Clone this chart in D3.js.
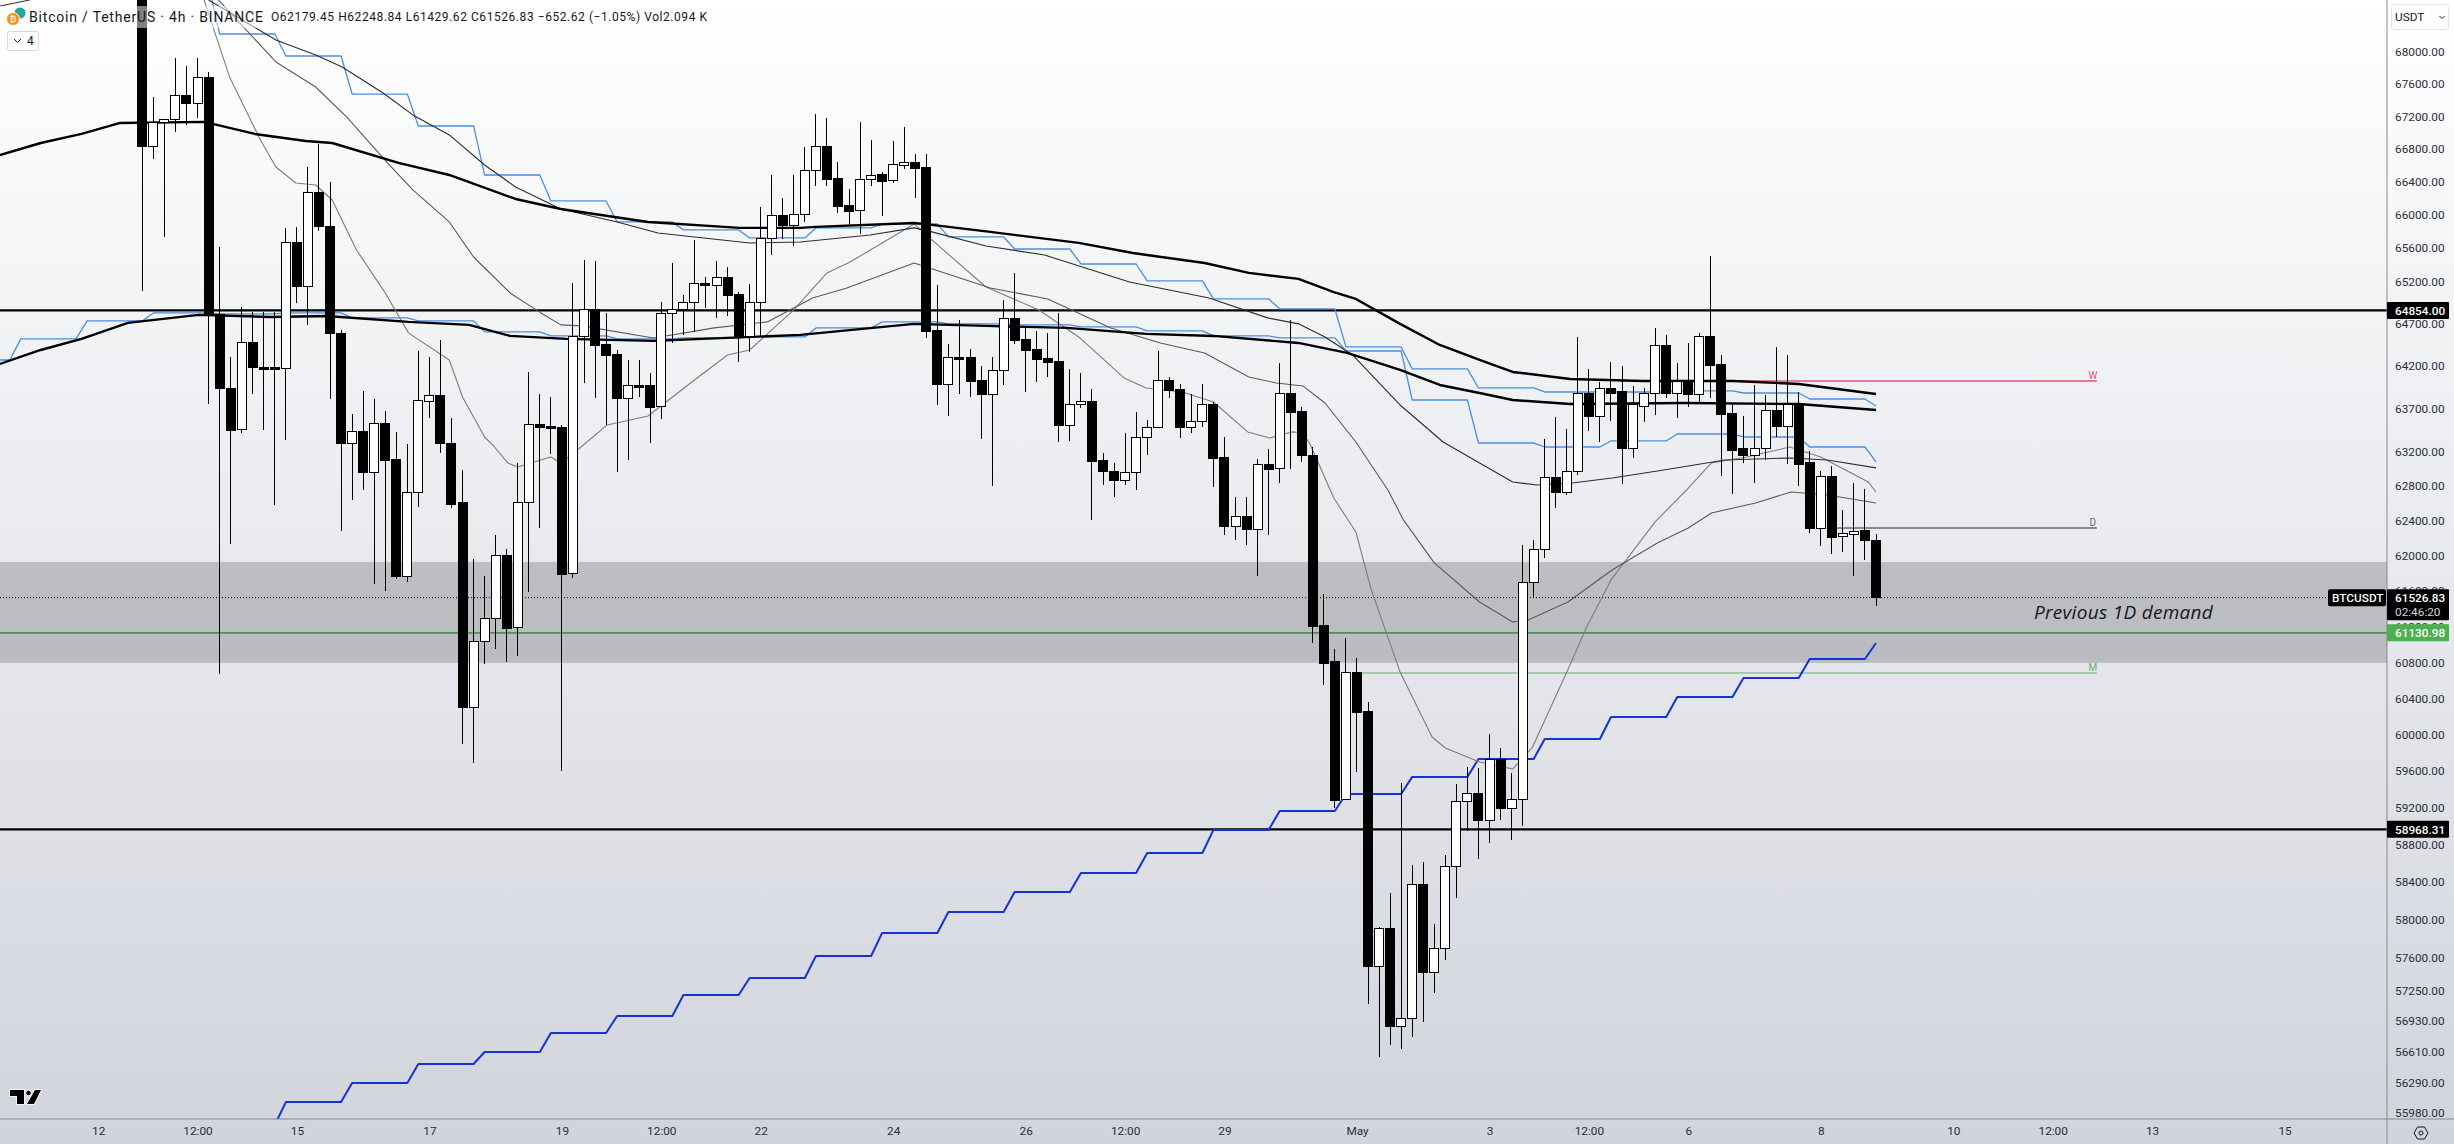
<!DOCTYPE html>
<html>
<head>
<meta charset="utf-8">
<title>BTCUSDT 4h</title>
<script src="https://cdnjs.cloudflare.com/ajax/libs/d3/7.8.5/d3.min.js"></script>
<style>
  html, body { margin: 0; padding: 0; background: #fff; overflow: hidden; }
  text { font-family: Roboto, "Open Sans", sans-serif; fill: #131722; }
</style>
</head>
<body>
<script>
// candles, oldest first, one every 4h starting 12 Apr 2024 16:00
const opens = [69413,66838,67121,67158,67454,67367,67677,64800,63926,63448,64468,64173,64173,64161,65661,65133,66265,65854,64575,63296,
  63425,62950,63518,63100,61761,62719,63785,63844,63296,62604,60295,61029,61287,61999,61186,62604,63506,63483,63471,61795,
  64539,64859,64444,64326,63809,63962,63962,63716,64812,64859,64942,65169,65145,65241,65048,64539,64942,65709,65987,65866,
  65999,66533,66826,66436,66108,66047,66423,66484,66411,66594,66631,66570,64610,63973,64291,64291,64020,63856,64138,64753,
  64504,64385,64279,64244,63494,63739,63774,63088,62961,62857,62950,63355,63471,64020,63915,63471,63541,63739,63123,62330,
  62444,62295,63042,62996,63868,63657,63157,61208,60806,59297,60683,60251,57499,57911,56880,56963,58370,57436,57689,58563,
  59275,59362,59059,59723,59189,59297,61693,62067,62892,62730,62961,63879,63599,63926,63891,63227,63727,63868,64432,63868,
  64020,63856,64539,64209,63634,63227,63157,63227,63669,63483,63750,63065,62307,62903,62215,62238,62284,62179.45];
const highs = [69670,67441,67170,67926,67826,67926,67752,65612,64303,64895,64836,64836,64836,65842,65854,66582,66863,66399,64622,63634,
  63903,63809,63669,63425,63285,64373,64303,64504,63587,62984,61965,61772,62238,62078,63065,64126,63868,63832,63506,65180,
  65456,65444,64824,64385,64267,64267,64115,64954,65420,65036,65697,65253,65444,65373,65072,65169,66095,66484,66204,66484,
  66826,67232,67183,66643,66314,67134,66912,66521,66900,67072,66740,66740,65157,64456,64741,64397,64197,64303,64978,65301,
  64646,64610,64587,64824,64162,64115,63926,63180,63065,63413,63657,63564,64373,64067,63985,63868,63985,63774,63366,62673,
  62673,63111,63227,64232,64741,63716,63250,61568,60950,61074,60850,60361,57922,58284,59472,58584,58616,57954,58691,59461,
  59646,59635,60008,59854,59581,62124,62181,63343,63599,63459,64539,64162,64009,64244,64197,63962,63938,64646,64563,64232,
  64468,64587,65504,64326,63762,63611,63973,63856,64421,64326,63891,63203,62973,63030,62524,62834,62765,62248.84];
const lows = [65086,66679,65733,67010,67096,67183,63750,60672,62136,63413,63868,63448,62581,63331,64942,64682,65806,63809,62284,62638,
  62753,61681,61602,61738,61704,62558,63587,63180,62547,59898,59690,60783,60950,60806,60872,61591,62318,63169,59603,61750,
  63997,63820,63506,62961,63100,63832,63296,63576,64468,64563,64599,64883,64765,64788,64244,64361,64539,65516,65709,65624,
  65914,66350,66350,66023,65878,65769,66350,65987,66387,66558,66204,64527,63739,63611,63868,63832,63343,62800,63973,64456,
  63891,64009,64067,63308,63320,63704,62410,62811,62673,62811,62753,63157,63471,63820,63355,63413,63483,62788,62238,62181,
  62124,61772,62238,62834,62996,63077,61017,60550,59199,59286,59592,57109,56558,56682,56640,56765,56922,57225,57573,58230,
  58951,58649,58821,59070,58854,59005,61534,61976,62547,62696,62927,63436,63308,63553,62823,63123,63541,63622,63820,63587,
  63716,63774,63820,62915,62707,63065,62834,63100,63366,63053,62800,62261,62113,62022,62044,61772,61954,61429.62];
const closes = [66838,67121,67158,67454,67355,67677,64800,63926,63436,64468,64173,64161,64161,65661,65133,66265,65854,64575,63296,63425,
  62950,63518,63088,61761,62730,63797,63844,63285,62592,60295,61029,61287,61999,61175,62604,63506,63471,63471,61783,64539,
  64859,64432,64314,63809,63962,63950,63704,64812,64859,64942,65169,65145,65241,65036,64527,64942,65709,65987,65866,65999,
  66533,66826,66423,66095,66035,66423,66472,66399,66606,66631,66558,64599,63973,64291,64279,64009,63856,64138,64753,64492,
  64373,64267,64232,63494,63750,63774,63077,62961,62857,62950,63355,63471,64020,63903,63471,63541,63739,63111,62330,62444,
  62295,63042,62984,63868,63646,63146,61197,60794,59286,60683,60240,57499,57911,56880,56963,58370,57436,57689,58563,59275,
  59362,59059,59723,59189,59297,61693,62067,62892,62730,62961,63879,63599,63926,63879,63227,63739,63868,64432,63868,64009,
  63856,64539,64197,63622,63215,63157,63238,63669,63483,63739,63053,62307,62903,62204,62250,62272,62179,61526.83];

// moving averages, [bar number, price]
const maThickUpper = [[-12.9,66728],[-9.2,66875],[-5.5,66986],[-2,67121],[5.6,67134],[10.2,66986],[14.8,66900],[17.2,66875],[23.2,66631],[27.8,66484],
  [33.8,66192],[37.9,66071],[45.8,65914],[54.1,65842],[59.6,65842],[61,65854],[69.9,65902],[71.5,65878],[76.8,65794],[84.8,65661],
  [89.7,65540],[96.2,65420],[100.2,65301],[104.7,65229],[107.9,65072],[109.9,64990],[113.9,64694],[117.5,64444],[121.1,64267],[124.1,64126],
  [129.3,64044],[135.9,64020],[144.1,64020],[150,63985],[157,63868]];
const maThickLower = [[-12.9,64220],[-9.2,64385],[-5.5,64516],[-1.3,64706],[5.1,64800],[11.6,64776],[16.7,64788],[24.1,64717],[29.6,64682],[33.3,64551],
  [38.4,64516],[46.3,64492],[59.6,64563],[69.9,64694],[76.4,64670],[83.7,64646],[90.9,64575],[97,64551],[104.7,64468],[109.1,64350],
  [113.9,64150],[117.5,63973],[121.1,63879],[124.1,63797],[129.3,63750],[139.6,63762],[150,63750],[157,63680]];
const maThinDark = [[6,68651],[12.1,68150],[15.7,67963],[18.1,67814],[21.8,67491],[24.5,67220],[27.8,66974],[31,66606],[33.8,66338],[37.9,66071],
  [43,65914],[46.7,65781],[55,65661],[59.6,65673],[65.9,65757],[69.9,65842],[71.5,65794],[76.4,65624],[81.7,65516],[89.4,65193],
  [96.6,65002],[101.9,64765],[104.7,64694],[107.1,64539],[109.6,64326],[112,63997],[113.9,63739],[117.8,63308],[121.1,63065],[124.1,62846],
  [126.3,62811],[129.5,62834],[133.1,62892],[137.2,62973],[140,63030],[143.3,63100],[149.3,63123],[152.6,63100],[157,63008]];
const maThinMid = [[6.9,68651],[12.1,67876],[15.7,67565],[18.5,67195],[22.2,66631],[24.5,66302],[27.8,65914],[30,65492],[33.3,65062],[36.1,64824],
  [37.9,64682],[39.8,64670],[46.3,64527],[51.8,64646],[56.6,64717],[60.7,65002],[63.8,65121],[69.9,65420],[76.8,65121],[82,64990],
  [87.7,64646],[92.2,64468],[96.2,64350],[100.2,64067],[102.7,63997],[105.1,63962],[107.1,63762],[109.9,63308],[112.8,62753],[114.2,62410],
  [117,61920],[121.1,61478],[124.1,61253],[125.5,61276],[129.1,61478],[133.1,61840],[137.2,62147],[140,62318],[142.1,62490],[146.1,62604],
  [149.3,62730],[152.6,62696],[157,62604]];
const maThinFast = [[5.6,68651],[7.9,67690],[10.7,66912],[12.1,66582],[13.9,66387],[15.7,66362],[17.2,66180],[19.4,65576],[22,65062],[24.1,64587],
  [27.8,64267],[29,63832],[31,63366],[31.9,63250],[33.1,63065],[34,63019],[37,63134],[37.9,63065],[39.4,63215],[42.1,63506],
  [45.8,63611],[50,64032],[53,64326],[55,64385],[57,64622],[59,64859],[62,65301],[64.1,65432],[69.9,65890],[71.5,65697],
  [76.4,65133],[81.2,64859],[84.8,64539],[88.9,64056],[90.9,63938],[94.2,63891],[97,63774],[100.1,63425],[102.1,63355],[104.1,63425],
  [105.1,63413],[105.7,63296],[107.9,62661],[109.9,62272],[111.3,61613],[113.9,60695],[116.8,59975],[118,59854],[121.1,59701],[124.1,59624],
  [125.9,59865],[129,60695],[130.8,61197],[133,61727],[137,62387],[140,62776],[142.1,63065],[145.3,63134],[149.2,63250],[152,63134],
  [156.3,62846],[157,62730]];
// the bit of an older average that shows in the top left corner
const maCorner = [[-12.9,68575],[-10.2,68651]];

// daily stepped levels, a new value every 6 bars from the given first bar
const stepUpperStart = 1;
const stepUpper = [68842,68225,67950,67478,67084,66484,66168,65914,65818,65721,65842,65890,65733,65588,65408,65205,64990,64871,64421,64162,63938,63891,63891,63903,63879,63809,63727];
const stepLowerStart = -17;
const stepLower = [64267,64516,64729,64824,64812,64824,64765,64729,64599,64551,64516,64527,64539,64646,64717,64694,64682,64658,64610,64551,64527,64373,63797,63296,63250,63320,63401,63366,63250,63077];
const stepRisingStart = 7;
const stepRising = [55858,56092,56289,56485,56609,56807,56984,57204,57383,57615,57859,58082,58295,58499,58713,58962,59167,59352,59538,59734,59953,60196,60416,60627,60839,61017];

// levels
const lastPrice = 61526.83;
const levelTop = 64854.00;
const levelBottom = 58968.31;
const levelGreen = 61130.98;
const zonePrices = [61931, 60796];
const pivotNames = ["W", "D", "M"];
const pivotPrices = [64020, 62318, 60683];
const pivotStartBars = [140, 153, 110];
const pivotEndBar = 177;
const pivotColors = ["#e0527c", "#6a6d75", "#66ad76"];

// axes
const priceTicks = [68000,67600,67200,66800,66400,66000,65600,65200,64700,64200,63700,63200,62800,62400,62000,61600,61200,60800,60400,60000,59600,59200,58800,58400,58000,57600,57250,56930,56610,56290,55980];
const timeTickDates = [[3,12,0],[3,13,12],[3,15,0],[3,17,0],[3,19,0],[3,20,12],[3,22,0],[3,24,0],[3,26,0],[3,27,12],[3,29,0],[4,1,0],[4,3,0],[4,4,12],[4,6,0],[4,8,0],[4,10,0],[4,11,12],[4,13,0],[4,15,0]];
const timeTickLabels = ["12","12:00","15","17","19","12:00","22","24","26","12:00","29","May","3","12:00","6","8","10","12:00","13","15"];

const width = 2454;
const height = 1144;
const plotRight = 2387;
const plotBottom = 1119;
const barMs = 4 * 3600 * 1000;
const firstBar = Date.UTC(2024, 3, 12, 16);
const barTime = b => new Date(firstBar + b * barMs);

const svg = d3.select("body")
  .append("svg")
  .attr("width", width)
  .attr("height", height)
  .style("display", "block");

const defs = svg.append("defs");
const grad = defs.append("linearGradient")
  .attr("id", "bg")
  .attr("x1", 0).attr("y1", 0).attr("x2", 0).attr("y2", 1);
grad.append("stop").attr("offset", "0%").attr("stop-color", "#ffffff");
grad.append("stop").attr("offset", "100%").attr("stop-color", "#d1d4dc");

defs.append("clipPath").attr("id", "plot")
  .append("rect").attr("width", plotRight).attr("height", plotBottom);

svg.append("rect").attr("width", width).attr("height", height).attr("fill", "url(#bg)");

// scales
const x = d3.scaleUtc()
  .domain([barTime(0), barTime(157)])
  .range([142.3, 1876]);
const y = d3.scaleLog()
  .domain([68000, 55980])
  .range([52, 1113]);

const chart = svg.append("g").attr("clip-path", "url(#plot)");

// demand zone
chart.append("rect")
  .attr("x", 0)
  .attr("width", plotRight)
  .attr("y", y(zonePrices[0]))
  .attr("height", y(zonePrices[1]) - y(zonePrices[0]))
  .attr("fill", "rgba(110,110,115,0.35)");

// horizontal lines
chart.selectAll(".level")
  .data([levelTop, levelBottom])
  .enter().append("line")
  .attr("x1", 0).attr("x2", plotRight)
  .attr("y1", d => y(d)).attr("y2", d => y(d))
  .attr("stroke", "#000").attr("stroke-width", 2.2);

chart.append("line")
  .attr("x1", 0).attr("x2", plotRight)
  .attr("y1", y(levelGreen)).attr("y2", y(levelGreen))
  .attr("stroke", "#4f8f5c").attr("stroke-width", 1.8);

chart.append("line")
  .attr("x1", 0).attr("x2", plotRight)
  .attr("y1", y(lastPrice)).attr("y2", y(lastPrice))
  .attr("stroke", "#000").attr("stroke-width", 1)
  .attr("stroke-dasharray", "1 2");

// pivot lines with their small letters
pivotNames.forEach((name, i) => {
  chart.append("line")
    .attr("x1", x(barTime(pivotStartBars[i]))).attr("x2", x(barTime(pivotEndBar)))
    .attr("y1", y(pivotPrices[i])).attr("y2", y(pivotPrices[i]))
    .attr("stroke", pivotColors[i])
    .attr("stroke-width", name == "M" ? 1 : 1.4);
  chart.append("text")
    .attr("x", x(barTime(pivotEndBar)) - 4)
    .attr("y", y(pivotPrices[i]) - 2)
    .attr("text-anchor", "middle")
    .style("font-size", "10px")
    .style("fill", pivotColors[i])
    .text(name);
});

chart.append("text")
  .attr("x", x(barTime(171.3)))
  .attr("y", y(61290))
  .style("font-size", "19px")
  .style("font-style", "italic")
  .style("font-family", "'Open Sans'")
  .style("letter-spacing", "0.3px")
  .text("Previous 1D demand");

// lines
const line = d3.line()
  .x(d => x(barTime(d[0])))
  .y(d => y(d[1]));

function stepPoints(levels, start) {
  const pts = [];
  levels.forEach((v, k) => {
    pts.push([start + 6 * k, v]);
    if (k < levels.length - 1) pts.push([start + 6 * k + 5, v]);
  });
  return pts;
}

const seriesLines = [
  { pts: stepPoints(stepUpper, stepUpperStart), color: "#4a8fe0", w: 1.3 },
  { pts: stepPoints(stepLower, stepLowerStart), color: "#4a8fe0", w: 1.3 },
  { pts: stepPoints(stepRising, stepRisingStart), color: "#1433d6", w: 2 },
  { pts: maThinFast, color: "#7d7d7d", w: 1.1 },
  { pts: maThinMid, color: "#5a5a5a", w: 1.1 },
  { pts: maThinDark, color: "#2d2d2d", w: 1.1 },
  { pts: maCorner, color: "#2d2d2d", w: 1.1 },
  { pts: maThickUpper, color: "#000", w: 2.4 },
  { pts: maThickLower, color: "#000", w: 2.4 }
];

chart.selectAll(".ma")
  .data(seriesLines)
  .enter().append("path")
  .attr("fill", "none")
  .attr("stroke", d => d.color)
  .attr("stroke-width", d => d.w)
  .attr("stroke-linejoin", "round")
  .attr("d", d => line(d.pts));

// candles
const bodyWidth = 9;
const candles = chart.selectAll(".candle")
  .data(closes.map((c, i) => i))
  .enter().append("g")
  .attr("shape-rendering", "crispEdges");

candles.append("line")
  .attr("x1", i => x(barTime(i))).attr("x2", i => x(barTime(i)))
  .attr("y1", i => y(highs[i])).attr("y2", i => y(lows[i]))
  .attr("stroke", "#000").attr("stroke-width", 1);

candles.append("rect")
  .attr("x", i => x(barTime(i)) - bodyWidth / 2)
  .attr("width", bodyWidth)
  .attr("y", i => y(Math.max(opens[i], closes[i])))
  .attr("height", i => Math.max(1.5, Math.abs(y(opens[i]) - y(closes[i]))))
  .attr("fill", i => closes[i] >= opens[i] ? "#fff" : "#000")
  .attr("stroke", "#000")
  .attr("stroke-width", 1);

// legend, top left
svg.append("rect").attr("x", 0).attr("y", 6).attr("width", 710).attr("height", 22)
  .attr("fill", "#fff").attr("opacity", 0.5);

svg.append("circle").attr("cx", 20).attr("cy", 13).attr("r", 5.5).attr("fill", "#26a69a");
svg.append("circle").attr("cx", 13).attr("cy", 19).attr("r", 6.5).attr("fill", "#f7931a").attr("stroke", "#fff");
svg.append("text").attr("x", 13).attr("y", 22).attr("text-anchor", "middle")
  .style("font-size", "9px").style("fill", "#fff").text("₿");

svg.append("text")
  .attr("x", 29).attr("y", 22)
  .attr("textLength", 234)
  .style("font-size", "14px")
  .text("Bitcoin / TetherUS · 4h · BINANCE");

svg.append("text")
  .attr("x", 271).attr("y", 21)
  .attr("textLength", 436)
  .style("font-size", "12px")
  .text("O62179.45  H62248.84  L61429.62  C61526.83  −652.62 (−1.05%)  Vol2.094 K");

svg.append("rect").attr("x", 7.5).attr("y", 31.5).attr("width", 31).attr("height", 19).attr("rx", 2)
  .attr("fill", "#fff").attr("stroke", "#d6d8de");
svg.append("path").attr("d", "M14 39l3.5 3.5l3.5 -3.5").attr("fill", "none").attr("stroke", "#131722");
svg.append("text").attr("x", 27).attr("y", 45).style("font-size", "12px").text("4");

// TradingView mark, bottom left
svg.append("path")
  .attr("d", "M10 1090H24V1104H17V1096H10Z M35 1090H41L34 1104H27Z")
  .attr("fill", "#000").attr("stroke", "#fff").attr("stroke-width", 1.5).attr("paint-order", "stroke");
svg.append("circle").attr("cx", 28.5).attr("cy", 1093).attr("r", 2.8)
  .attr("fill", "#000").attr("stroke", "#fff");

// price axis
const yAxis = d3.axisRight(y)
  .tickValues(priceTicks)
  .tickSize(0)
  .tickPadding(8)
  .tickFormat(d3.format(".2f"));

const yG = svg.append("g").attr("transform", `translate(${plotRight},0)`).call(yAxis);
yG.select(".domain").remove();
yG.selectAll("text").style("font-size", "11.8px").style("font-family", "Roboto").style("fill", "#2a2e39");

// time axis
const xAxis = d3.axisBottom(x)
  .tickValues(timeTickDates.map(d => new Date(Date.UTC(2024, d[0], d[1], d[2]))))
  .tickSize(0)
  .tickPadding(8)
  .tickFormat((d, i) => timeTickLabels[i]);

const xG = svg.append("g").attr("transform", `translate(0,${plotBottom})`).call(xAxis);
xG.select(".domain").remove();
xG.selectAll("text").style("font-size", "11.8px").style("font-family", "Roboto").style("fill", "#2a2e39");

svg.append("line").attr("x1", 0).attr("x2", width).attr("y1", plotBottom).attr("y2", plotBottom)
  .attr("stroke", "#868993");
svg.append("line").attr("x1", plotRight).attr("x2", plotRight).attr("y1", 0).attr("y2", height)
  .attr("stroke", "#868993");

// currency box
svg.append("rect").attr("x", 2391.5).attr("y", 4.5).attr("width", 57).attr("height", 25).attr("rx", 3)
  .attr("fill", "none").attr("stroke", "#e0e3eb");
svg.append("text").attr("x", 2395).attr("y", 21).style("font-size", "11.8px").text("USDT");
svg.append("path").attr("d", "M2439.5 16l2.5 2.5l2.5 -2.5").attr("fill", "none").attr("stroke", "#131722");

// settings icon
svg.append("path")
  .attr("d", "M2414 1133l3.5 -6h7l3.5 6l-3.5 6h-7Z")
  .attr("fill", "none").attr("stroke", "#131722");
svg.append("circle").attr("cx", 2421).attr("cy", 1133).attr("r", 2).attr("fill", "none").attr("stroke", "#131722");

// price tags on the axis
function tag(price, fill, label) {
  const ty = y(price);
  svg.append("rect")
    .attr("x", plotRight).attr("y", ty - 8.5).attr("width", 62).attr("height", 17).attr("rx", 1)
    .attr("fill", fill);
  svg.append("text")
    .attr("x", plotRight + 8).attr("y", ty + 4.5)
    .style("font-size", "11.8px").style("font-weight", "500").style("fill", "#fff")
    .text(label);
}

tag(levelTop, "#000", levelTop.toFixed(2));
tag(levelBottom, "#000", levelBottom.toFixed(2));
tag(levelGreen, "#4caf50", levelGreen.toFixed(2));

const py = y(lastPrice);
svg.append("rect").attr("x", plotRight).attr("y", py - 8.5).attr("width", 62).attr("height", 31).attr("rx", 1).attr("fill", "#000");
svg.append("rect").attr("x", 2328).attr("y", py - 8.5).attr("width", 58).attr("height", 17).attr("rx", 2).attr("fill", "#000");
svg.append("text").attr("x", 2332).attr("y", py + 4.5)
  .style("font-size", "11.8px").style("font-weight", "500").style("fill", "#fff").text("BTCUSDT");
svg.append("text").attr("x", plotRight + 8).attr("y", py + 4.5)
  .style("font-size", "11.8px").style("font-weight", "500").style("fill", "#fff").text(lastPrice.toFixed(2));
svg.append("text").attr("x", plotRight + 8).attr("y", py + 18)
  .style("font-size", "11.8px").style("fill", "#d1d4dc").text("02:46:20");
</script>
</body>
</html>
